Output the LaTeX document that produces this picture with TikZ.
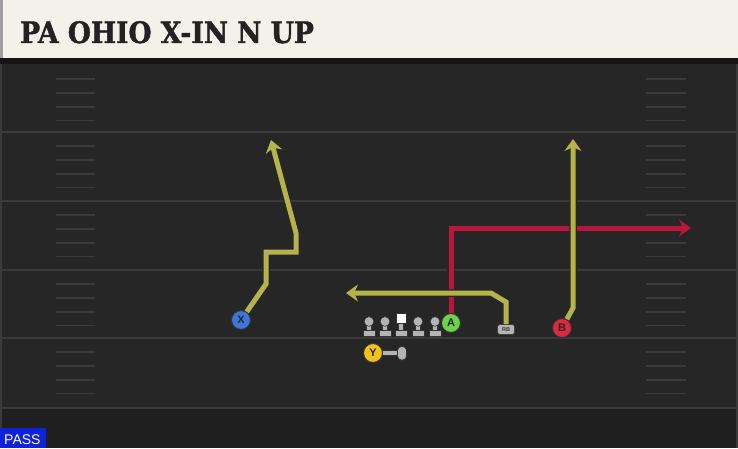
\documentclass[tikz,border=0pt]{standalone}
\usepackage{fontspec}
\setsansfont{Liberation Sans}
\newfontfamily\titlefont{DejaVu Serif Condensed}[BoldFeatures={FakeBold=1.4}]
\usetikzlibrary{arrows.meta}

\definecolor{headerbg}{HTML}{F3F1EA}
\definecolor{titleink}{HTML}{222222}
\definecolor{fieldbg}{HTML}{262626}
\definecolor{fieldlow}{HTML}{1F1F1F}
\definecolor{yardline}{HTML}{3A3A3A}
\definecolor{routeyellow}{HTML}{B4B44A}
\definecolor{routered}{HTML}{B8163A}
\definecolor{xblue}{HTML}{3E76D9}
\definecolor{agreen}{HTML}{6FD24B}
\definecolor{bred}{HTML}{E0283C}
\definecolor{yyellow}{HTML}{F2C318}
\definecolor{olgray}{HTML}{B4B4B4}
\definecolor{passblue}{HTML}{0F22D8}

\begin{document}
\begin{tikzpicture}[x=1pt,y=-1pt,
    yroute/.style={draw=routeyellow, line width=5pt, line join=miter,
        -{Stealth[length=12pt,width=17pt,inset=4pt]},
        preaction={draw=black!85, line width=7.5pt, shorten >=-1.5pt,
            -{Stealth[length=14pt,width=20pt,inset=4.5pt]}}},
    rroute/.style={yroute, draw=routered},
    hash/.style={draw=yardline, line width=1.6pt},
    yard/.style={draw=yardline, line width=2pt}]
    % field
    \fill[fieldbg] (0,0) rectangle (738,448);
    \fill[fieldlow] (0,408) rectangle (738,448);
    \fill[black!92] (0,58) rectangle (738,64);
    \draw[yardline, line width=2pt] (1,64) -- (1,448);
    \draw[yardline, line width=1.5pt] (737,64) -- (737,448);
    \foreach \y in {132,201,270,338,408}
        \draw[yard] (2,\y) -- (736,\y);
    \foreach \y in {65,132,201,270,338}
        \foreach \k in {14,28,42,55.5} {
            \draw[hash] (56,\y+\k) -- (95,\y+\k);
            \draw[hash] (646,\y+\k) -- (686,\y+\k);
        }
    % header
    \fill[headerbg] (0,0) rectangle (738,58);
    \fill[black!38] (0,0) rectangle (3,58);
    \node[anchor=base west, inner sep=0pt, text=titleink,
        font=\titlefont\bfseries\fontsize{29.5}{29.5}\selectfont] (title) at (20,43) {PA OHIO X-IN N UP};
    % line
    \foreach \lx in {369,385,418,435} {
        \fill[olgray, draw=black!80, line width=0.6pt] (\lx-2.4,324) rectangle (\lx+2.4,332);
        \fill[olgray, draw=black!80, line width=0.6pt] (\lx-6,330.5) rectangle (\lx+6,336);
        \fill[olgray, draw=black!80, line width=0.6pt] (\lx,321.5) circle[radius=4.8];
    }
    \fill[olgray, draw=black!80, line width=0.6pt] (398.6,323) rectangle (403.4,332);
    \fill[olgray, draw=black!80, line width=0.6pt] (395,330.5) rectangle (407,336);
    \fill[white, draw=black!80, line width=0.6pt] (396,313.5) rectangle (406,323.5);
    % players
    \begin{scope}[every node/.style={circle, draw=black!80, line width=1pt,
        minimum size=19pt, inner sep=0pt, text=black!85,
        font=\sffamily\bfseries\fontsize{11}{11}\selectfont}]
        \node[fill=xblue] (X) at (241,320) {X};
        \node[fill=agreen] (A) at (451,323) {A};
        \node[fill=bred] (B) at (562,328) {B};
        \node[fill=yyellow] (Y) at (373,353) {Y};
    \end{scope}
    \node[rounded corners=2.5pt, fill=olgray, draw=black!75, line width=0.7pt,
        minimum width=17pt, minimum height=10pt, inner sep=0pt, text=black!80,
        font=\sffamily\bfseries\fontsize{5.5}{5.5}\selectfont] (RB) at (506,329.5) {RB};
    % routes
    \coordinate (Xtip) at (271,140);
    \coordinate (Atip) at (691,228);
    \coordinate (Btip) at (573,139);
    \coordinate (RBtip) at (346,293);
    \coordinate (Yend) at (399,353);
    \draw[yroute] (X) -- (266,284) -- (266,252) -- (296,252) -- (296,233) -- (Xtip);
    \draw[rroute] (A) -- (451,228) -- (Atip);
    \draw[yroute] (RB) -- (506,302) -- (491,293) -- (RBtip);
    \draw[yroute] (B) -- (573,308) -- (Btip);
    \draw[olgray, line width=4.5pt, preaction={draw=black!80, line width=6pt}] (Y) -- (Yend);
    \fill[olgray, draw=black!80, line width=0.7pt, rounded corners=4pt] (397.5,346.5) rectangle (406.5,360);
    % play type
    \fill[passblue] (0,428) rectangle (46,448);
    \node[anchor=base west, inner sep=0pt, text=white,
        font=\sffamily\fontsize{14}{14}\selectfont] (pass) at (4,444) {PASS};
\end{tikzpicture}
\end{document}
